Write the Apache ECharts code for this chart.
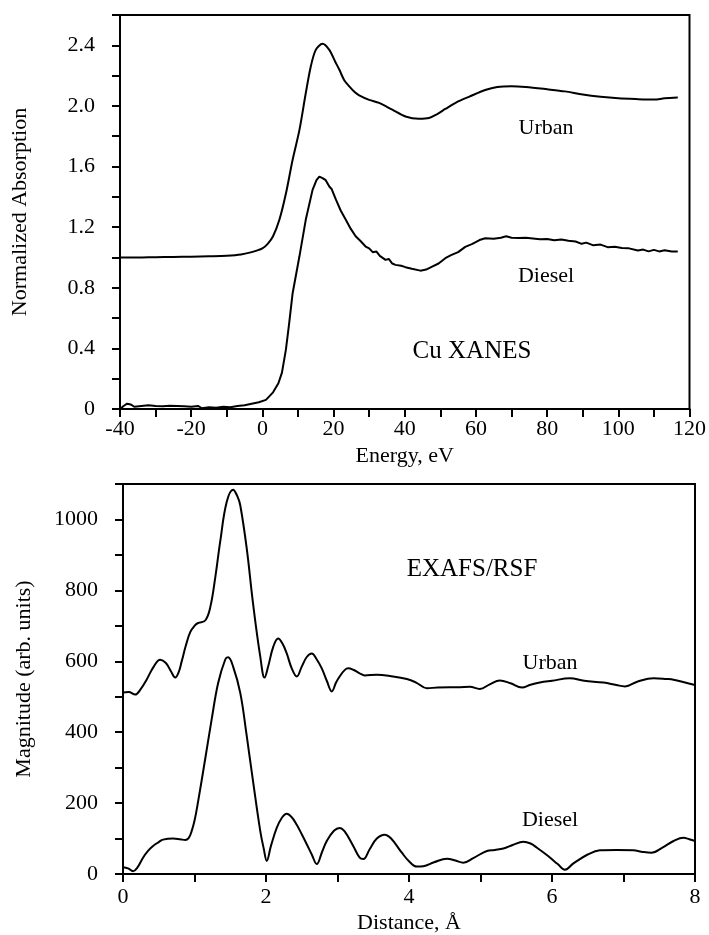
<!DOCTYPE html>
<html>
<head>
<meta charset="utf-8">
<script src="https://cdn.jsdelivr.net/npm/echarts@6/dist/echarts.min.js"></script>
<style>
html,body{margin:0;padding:0;background:#fff;}
#container{width:709px;height:935px;}
</style>
</head>
<body>
<div id="container"></div>
<script>
// Cu XANES, energy (eV) vs normalized absorption
var xanesUrbanE=[-40,-35,-30,-25,-20,-15,-10,-6,-3,0,1.5,3,4.8,6.6,8.5,10.4,12.2,13.6,15,16.9,18.8,20.5,21.6,23,24.4,26,27.2,30,32.8,36.5,40.2,44,46.8,49,51.4,55,58,62.6,66,70,74,80,85,90,95,100,105,110,113,116.7];
var xanesUrban=[1.00,1.00,1.002,1.003,1.005,1.008,1.012,1.02,1.035,1.06,1.09,1.14,1.25,1.42,1.645,1.84,2.085,2.26,2.37,2.41,2.37,2.29,2.24,2.17,2.13,2.09,2.07,2.04,2.02,1.975,1.93,1.915,1.92,1.945,1.98,2.03,2.06,2.105,2.125,2.13,2.125,2.11,2.096,2.075,2.06,2.05,2.045,2.042,2.05,2.055];
var xanesDieselE=[-40,-39,-38,-37,-36,-34,-32,-30,-28,-26,-24,-22,-20,-18,-17,-15,-13,-11,-9,-7,-5,-3,-1,1,3,4.5,5.5,6.6,7.5,8.5,10.4,12.2,14.1,15.2,16,16.9,17.8,18.8,19.5,20.7,22,23.4,24.8,26.2,27.5,29,30,31,32,33,34.6,35.5,36.5,37.4,39,40.2,42,44.4,46,47.7,49.5,51.4,53,55,57,59,61,62.6,65,67,68.5,70,72,74,76,78,80,82,84,86,88,89.7,91,93,95,97,99,101,103,105.5,107,108.5,110,111.5,113,115,116.7];
var xanesDiesel=[0.0,0.02,0.035,0.03,0.015,0.02,0.025,0.02,0.018,0.022,0.02,0.018,0.015,0.02,0.005,0.012,0.008,0.015,0.012,0.02,0.025,0.035,0.045,0.06,0.11,0.17,0.24,0.39,0.56,0.764,1.006,1.25,1.446,1.51,1.534,1.524,1.51,1.468,1.45,1.38,1.31,1.25,1.19,1.14,1.11,1.072,1.06,1.035,1.04,1.01,0.984,0.99,0.96,0.951,0.945,0.936,0.925,0.913,0.92,0.94,0.96,0.995,1.015,1.035,1.07,1.09,1.115,1.127,1.123,1.13,1.14,1.13,1.128,1.13,1.125,1.12,1.122,1.113,1.118,1.11,1.105,1.09,1.098,1.08,1.085,1.068,1.07,1.062,1.06,1.046,1.052,1.04,1.05,1.04,1.048,1.04,1.04];

// EXAFS radial structure function, distance (A) vs magnitude
var rsfUrbanR=[0,0.08,0.17,0.25,0.33,0.43,0.52,0.6,0.67,0.73,0.78,0.82,0.88,0.94,1.0,1.05,1.15,1.22,1.29,1.36,1.45,1.54,1.6,1.64,1.73,1.82,1.92,1.98,2.03,2.1,2.17,2.23,2.29,2.36,2.43,2.5,2.57,2.64,2.71,2.78,2.85,2.92,2.98,3.03,3.1,3.15,3.22,3.31,3.38,3.55,3.75,3.97,4.1,4.25,4.4,4.71,4.85,4.99,5.13,5.27,5.42,5.58,5.7,5.83,6.0,6.25,6.45,6.72,6.9,7.02,7.2,7.42,7.6,7.7,8.0];
var rsfUrban=[512,513,506,522,548,585,604,595,572,554,570,599,645,682,700,708,715,752,836,938,1049,1084,1065,1040,919,761,613,554,585,640,664,650,622,580,557,585,612,622,605,580,545,515,540,557,575,580,576,566,560,562,558,550,540,524,526,527,528,522,535,546,538,526,534,540,545,552,545,540,533,529,543,552,550,548,533];
var rsfDieselR=[0,0.07,0.14,0.2,0.28,0.35,0.42,0.5,0.56,0.7,0.8,0.87,0.92,0.96,1.0,1.05,1.15,1.24,1.33,1.43,1.47,1.54,1.64,1.73,1.82,1.92,1.97,2.01,2.07,2.15,2.22,2.29,2.36,2.43,2.5,2.57,2.64,2.71,2.78,2.85,2.95,3.03,3.1,3.22,3.31,3.36,3.45,3.55,3.66,3.75,3.9,4.0,4.11,4.2,4.35,4.53,4.65,4.76,4.9,5.09,5.2,5.32,5.45,5.6,5.7,5.79,5.95,6.08,6.18,6.3,6.5,6.67,6.9,7.14,7.25,7.39,7.55,7.7,7.84,7.92,8.0];
var rsfDiesel=[19,16,8,18,46,65,79,90,97,100,98,96,102,121,150,204,325,436,538,605,611,585,511,390,260,121,70,37,80,130,158,170,160,139,112,84,55,28,60,93,122,130,120,79,46,42,70,100,111,100,60,36,21,22,33,43,38,32,45,65,68,72,82,91,86,74,50,28,12,30,55,67,68,67,63,60,75,93,102,98,93];

function pairs(xs,ys){
    var out=[];
    for(var i=0;i<xs.length;i++){
        out.push([xs[i],ys[i]]);
    }
    return out;
}

var FONT='Liberation Serif';
var black='#000';

function xAxisCfg(idx,min,max,step,labelStep,name,gap,margin){
    return {
        type:'value',gridIndex:idx,min:min,max:max,interval:step,
        name:name,nameLocation:'middle',nameGap:gap,
        nameTextStyle:{fontFamily:FONT,fontSize:22,color:black},
        axisLine:{onZero:false,lineStyle:{color:black,width:2}},
        axisTick:{inside:false,length:8,lineStyle:{color:black,width:2}},
        axisLabel:{margin:margin,fontFamily:FONT,fontSize:22,color:black,
            formatter:function(v){return Math.abs(v/labelStep-Math.round(v/labelStep))<1e-6?String(v):'';}},
        splitLine:{show:false}
    };
}

function note(x,y,txt,size){
    return {type:'text',x:x,y:y,style:{text:txt,font:size+'px "Liberation Serif"',fill:black,align:'center',verticalAlign:'middle'}};
}

var dom=document.getElementById('container');
var myChart=echarts.init(dom,null,{renderer:'canvas'});

var option={
    animation:false,
    backgroundColor:'#fff',
    grid:[
        {left:120,right:17,top:15,bottom:526,show:true,borderColor:black,borderWidth:2},
        {left:123,right:14,top:484,bottom:55,show:true,borderColor:black,borderWidth:2}
    ],
    xAxis:[
        xAxisCfg(0,-40,120,10,20,'Energy, eV',36,9),
        xAxisCfg(1,0,8,1,2,'Distance, Å',38,12)
    ],
    yAxis:[
        {
            type:'value',gridIndex:0,min:0,max:2.6,interval:0.2,
            name:'Normalized Absorption',nameLocation:'middle',nameRotate:90,nameGap:89,
            nameTextStyle:{fontFamily:FONT,fontSize:22,color:black},
            axisLine:{onZero:false,lineStyle:{color:black,width:2}},
            axisTick:{length:8,lineStyle:{color:black,width:2}},
            axisLabel:{margin:25,fontFamily:FONT,fontSize:22,color:black,
                formatter:function(v){
                    if(Math.abs(v/0.4-Math.round(v/0.4))>1e-6){return '';}
                    return v===0?'0':v.toFixed(1);
                }},
            splitLine:{show:false}
        },
        {
            type:'value',gridIndex:1,min:0,max:1100,interval:100,
            name:'Magnitude (arb. units)',nameLocation:'middle',nameRotate:90,nameGap:88,
            nameTextStyle:{fontFamily:FONT,fontSize:22,color:black},
            axisLine:{onZero:false,lineStyle:{color:black,width:2}},
            axisTick:{length:8,lineStyle:{color:black,width:2}},
            axisLabel:{margin:25,fontFamily:FONT,fontSize:22,color:black,
                formatter:function(v){return v%200===0?String(v):'';}},
            splitLine:{show:false}
        }
    ],
    series:[
        {name:'Urban XANES',type:'line',xAxisIndex:0,yAxisIndex:0,symbol:'none',smooth:0.3,
            lineStyle:{color:black,width:2},data:pairs(xanesUrbanE,xanesUrban)},
        {name:'Diesel XANES',type:'line',xAxisIndex:0,yAxisIndex:0,symbol:'none',smooth:false,
            lineStyle:{color:black,width:2},data:pairs(xanesDieselE,xanesDiesel)},
        {name:'Urban RSF',type:'line',xAxisIndex:1,yAxisIndex:1,symbol:'none',smooth:0.4,
            lineStyle:{color:black,width:2},data:pairs(rsfUrbanR,rsfUrban)},
        {name:'Diesel RSF',type:'line',xAxisIndex:1,yAxisIndex:1,symbol:'none',smooth:0.4,
            lineStyle:{color:black,width:2},data:pairs(rsfDieselR,rsfDiesel)}
    ],
    graphic:[
        note(546,128,'Urban',22),
        note(546,276,'Diesel',22),
        note(472,351,'Cu XANES',25),
        note(472,569,'EXAFS/RSF',25),
        note(550,663,'Urban',22),
        note(550,820,'Diesel',22)
    ]
};

myChart.setOption(option);
</script>
</body>
</html>
